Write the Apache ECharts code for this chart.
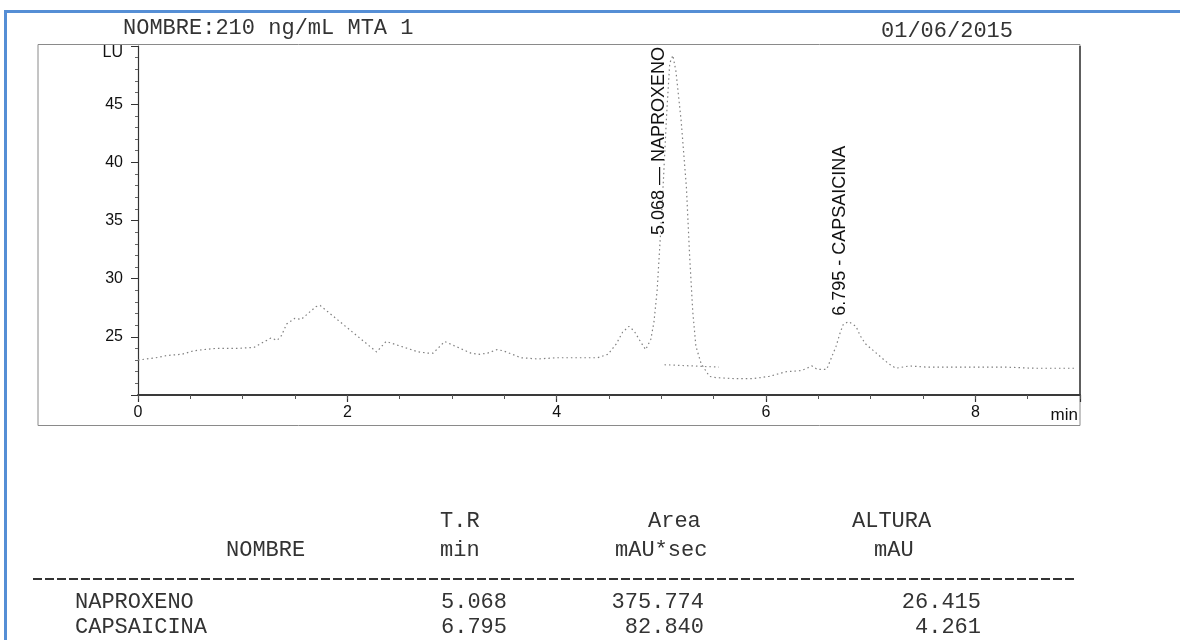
<!DOCTYPE html>
<html>
<head>
<meta charset="utf-8">
<title>NOMBRE:210 ng/mL MTA 1</title>
<script src="https://cdn.jsdelivr.net/npm/echarts@6/dist/echarts.min.js"></script>
<style>
  html, body { margin: 0; padding: 0; background: #fff; }
  #chart { width: 1180px; height: 640px; }
</style>
</head>
<body>
<div id="chart"></div>
<script>
const traceTime = [
  0.00, 0.08, 0.17, 0.28, 0.42, 0.53, 0.62, 0.74, 0.86, 0.95,
  1.11, 1.27, 1.33, 1.37, 1.42, 1.50, 1.56, 1.70, 1.74, 2.28,
  2.37, 2.68, 2.77, 2.82, 2.93, 3.18, 3.26, 3.34, 3.43, 3.49,
  3.66, 3.82, 4.00, 4.23, 4.39, 4.49, 4.57, 4.63, 4.69, 4.74,
  4.80, 4.85, 4.90, 4.93, 4.96, 4.99, 5.02, 5.05, 5.08, 5.11,
  5.14, 5.19, 5.24, 5.27, 5.30, 5.33, 5.38, 5.46, 5.52, 5.71,
  5.87, 6.03, 6.19, 6.34, 6.44, 6.49, 6.58, 6.62, 6.67, 6.71,
  6.74, 6.79, 6.86, 6.90, 6.95, 7.17, 7.24, 7.37, 7.53, 7.72,
  7.88, 8.05, 8.29, 8.56, 8.85, 8.96
];
const traceLU = [
  23.0, 23.1, 23.2, 23.4, 23.5, 23.8, 23.9, 24.0, 24.0, 24.0,
  24.1, 24.9, 24.7, 25.1, 26.1, 26.6, 26.5, 27.6, 27.7, 23.7,
  24.6, 23.7, 23.6, 23.6, 24.6, 23.6, 23.5, 23.6, 23.9, 23.8,
  23.2, 23.1, 23.2, 23.2, 23.2, 23.5, 24.4, 25.4, 25.9, 25.5,
  24.6, 23.9, 24.8, 26.3, 29.0, 33.5, 38.5, 44.0, 48.5, 49.2,
  47.8, 43.5, 37.8, 32.0, 27.2, 24.2, 22.7, 21.6, 21.5, 21.4,
  21.4, 21.6, 22.0, 22.1, 22.5, 22.2, 22.2, 23.1, 24.2, 25.4,
  26.1, 26.3, 25.9, 25.1, 24.4, 22.7, 22.3, 22.5, 22.4, 22.4,
  22.4, 22.4, 22.4, 22.3, 22.3, 22.3
];

// línea base de integración bajo el pico de naproxeno
const baseTime = [5.03, 5.55];
const baseLU = [22.6, 22.4];

// tabla de picos
const peakNames = ["NAPROXENO", "CAPSAICINA"];
const peakRT = [5.068, 6.795];
const peakSep = [" \u2014 ", " - "];
const peakArea = ["375.774", "82.840"];
const peakHeight = ["26.415", "4.261"];

// ejes
const xLabels = [0, 2, 4, 6, 8];
const yLabels = [25, 30, 35, 40, 45];
const yUnit = "LU";
const xUnit = "min";

const SANS = '"Liberation Sans", Arial, sans-serif';
const MONO = '"Liberation Mono", "DejaVu Sans Mono", monospace';

let chart = echarts.init(document.getElementById("chart"), null, { renderer: "canvas" });

function monoText(text, x, y, align) {
  return {
    type: "text",
    x: x,
    y: y,
    silent: true,
    style: {
      text: text,
      fill: "#333",
      font: "22px " + MONO,
      align: align || "left",
      verticalAlign: "middle",
    },
  };
}

function getChartOption() {
  let trace = traceTime.map((t, i) => [t, traceLU[i]]);
  let base = baseTime.map((t, i) => [t, baseLU[i]]);

  let option = {
    animation: false,
    backgroundColor: "#fff",
    grid: {
      left: 138,
      right: 100,
      top: 46,
      bottom: 245,
    },
    xAxis: [
      {
        type: "value",
        min: 0,
        max: 9,
        interval: 2,
        position: "bottom",
        axisLine: { show: true, lineStyle: { color: "#3a3a3a", width: 1.8 } },
        axisTick: { show: true, length: 7, lineStyle: { color: "#333", width: 1.2 } },
        axisLabel: {
          margin: 10,
          color: "#111",
          fontSize: 16,
          fontFamily: SANS,
          formatter: (v) => (xLabels.includes(v) ? String(v) : ""),
        },
        splitLine: { show: false },
        name: xUnit,
        nameLocation: "end",
        nameGap: -2,
        nameTextStyle: {
          color: "#111",
          fontSize: 17,
          fontFamily: SANS,
          align: "right",
          verticalAlign: "top",
          padding: [12, 0, 0, 0],
        },
      },
      {
        type: "value",
        min: 0,
        max: 9,
        interval: 0.5,
        position: "bottom",
        axisLine: { show: false },
        axisTick: { show: true, length: 4, lineStyle: { color: "#555" } },
        axisLabel: { show: false },
        splitLine: { show: false },
      },
    ],
    yAxis: {
      type: "value",
      min: 20,
      max: 50,
      interval: 5,
      axisLine: { show: true, lineStyle: { color: "#333", width: 1.2 } },
      axisTick: { show: true, length: 7, lineStyle: { color: "#333" } },
      minorTick: { show: true, splitNumber: 5, length: 3, lineStyle: { color: "#666" } },
      axisLabel: {
        margin: 15,
        color: "#111",
        fontSize: 16,
        fontFamily: SANS,
        formatter: (v) => (v === 50 ? "{u|" + yUnit + "}" : yLabels.includes(v) ? String(v) : ""),
        rich: {
          u: { fontSize: 16, fontFamily: SANS, color: "#111", padding: [14, 0, 0, 0] },
        },
      },
      splitLine: { show: false },
    },
    series: [
      {
        name: "Señal",
        type: "line",
        xAxisIndex: 0,
        data: trace,
        symbol: "none",
        silent: true,
        lineStyle: { color: "#808080", width: 1.2, type: [1.5, 3] },
        z: 3,
      },
      {
        name: "Línea base",
        type: "line",
        xAxisIndex: 0,
        data: base,
        symbol: "none",
        silent: true,
        lineStyle: { color: "#8a8a8a", width: 1.2, type: [1.5, 3] },
        z: 2,
      },
    ],
  };

  return option;
}

function getGraphics() {
  let els = [];

  // marco azul del documento
  els.push({
    type: "rect",
    silent: true,
    shape: { x: 5.5, y: 11.5, width: 1300, height: 800 },
    style: { fill: "none", stroke: "#558ed5", lineWidth: 3 },
  });

  // recuadro del cromatograma
  els.push({
    type: "rect",
    silent: true,
    shape: { x: 38, y: 44.5, width: 1042, height: 381 },
    style: { fill: "none", stroke: "#8a8a8a", lineWidth: 1 },
  });
  els.push({
    type: "line",
    silent: true,
    shape: { x1: 1080, y1: 46, x2: 1080, y2: 395 },
    style: { stroke: "#333", lineWidth: 1.4 },
  });

  // cabecera
  els.push(monoText("NOMBRE:210 ng/mL MTA 1", 123, 28));
  els.push(monoText("01/06/2015", 881, 31));

  // etiquetas de los picos, giradas y ancladas en su tiempo de retención
  let ctx = document.createElement("canvas").getContext("2d");
  let labelFont = "18px " + SANS;
  ctx.font = labelFont;
  let gridTop = chart.convertToPixel({ gridIndex: 0 }, [0, 50])[1];

  peakRT.forEach((rt, i) => {
    let apex = -Infinity;
    traceTime.forEach((t, j) => {
      if (Math.abs(t - rt) < 0.15) apex = Math.max(apex, traceLU[j]);
    });
    let text = rt.toFixed(3) + peakSep[i] + peakNames[i];
    let len = ctx.measureText(text).width;
    let p = chart.convertToPixel({ gridIndex: 0 }, [rt, apex]);
    let y = p[1] - 6;
    if (y - len < gridTop + 1) y = gridTop + 1 + len;
    let x = chart.convertToPixel({ gridIndex: 0 }, [rt, 20])[0];
    els.push({
      type: "text",
      x: x,
      y: y,
      rotation: Math.PI / 2,
      silent: true,
      z: 10,
      style: {
        text: text,
        font: labelFont,
        fill: "#111",
        align: "left",
        verticalAlign: "bottom",
      },
    });
  });

  // tabla de resultados
  els.push(monoText("T.R", 440, 521));
  els.push(monoText("Area", 648, 521));
  els.push(monoText("ALTURA", 852, 521));
  els.push(monoText("NOMBRE", 226, 550));
  els.push(monoText("min", 440, 550));
  els.push(monoText("mAU*sec", 615, 550));
  els.push(monoText("mAU", 874, 550));

  els.push({
    type: "line",
    silent: true,
    shape: { x1: 33, y1: 579, x2: 1075, y2: 579 },
    style: { stroke: "#333", lineWidth: 2, lineDash: [9, 3] },
  });

  let rowY = [602, 627];
  peakNames.forEach((name, i) => {
    els.push(monoText(name, 75, rowY[i]));
    els.push(monoText(peakRT[i].toFixed(3), 507, rowY[i], "right"));
    els.push(monoText(peakArea[i], 704, rowY[i], "right"));
    els.push(monoText(peakHeight[i], 981, rowY[i], "right"));
  });

  return els;
}

chart.setOption(getChartOption());
chart.setOption({ graphic: { elements: getGraphics() } });
</script>
</body>
</html>
